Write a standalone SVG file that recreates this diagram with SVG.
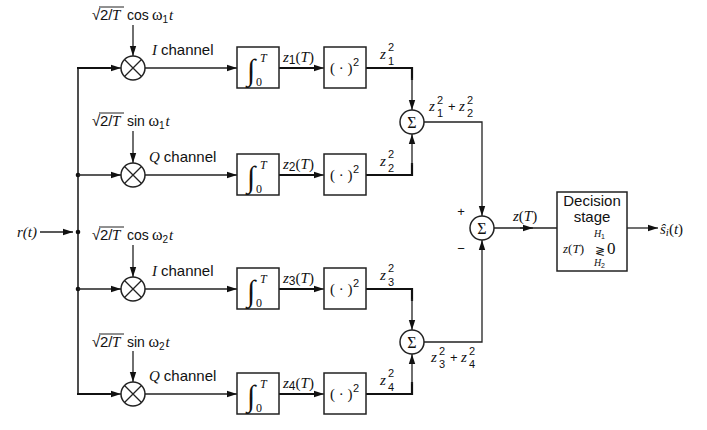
<svg xmlns="http://www.w3.org/2000/svg" width="707" height="430" viewBox="0 0 707 430">
<defs>
<marker id="ah" markerUnits="userSpaceOnUse" markerWidth="10" markerHeight="8" refX="10" refY="4" orient="auto">
<path d="M0,0.8 L10,4 L0,7.2 Z" fill="#111"/>
</marker>
</defs>
<style>
.ln{stroke:#222;stroke-width:1.3;fill:none}
.tk{stroke:#111;stroke-width:2.2;fill:none}
.box{stroke:#222;stroke-width:1.5;fill:#fff}
.sans{font-family:"Liberation Sans",Arial,sans-serif;fill:#111}
.it{font-family:"Liberation Serif","Times New Roman",serif;font-style:italic;fill:#111}
.ser{font-family:"Liberation Serif","Times New Roman",serif;fill:#111}
.dv{font-family:"DejaVu Serif",serif;fill:#111}
</style>
<rect width="707" height="430" fill="#fff"/>

<g id="connectors">
<line class="ln" x1="78" y1="67" x2="78" y2="395" style="stroke-width:1.6"/>
<line class="ln" x1="40" y1="232" x2="73" y2="232" marker-end="url(#ah)"/>
<circle cx="78" cy="232" r="2.3" fill="#111"/>
<circle cx="78" cy="175" r="2.3" fill="#111"/>
<circle cx="78" cy="289" r="2.3" fill="#111"/>
<line class="tk" x1="77" y1="68" x2="112" y2="68"/>
<line class="ln" x1="110" y1="68" x2="121" y2="68" marker-end="url(#ah)"/>
<line class="ln" x1="78" y1="175" x2="121" y2="175" marker-end="url(#ah)"/>
<line class="ln" x1="78" y1="289" x2="121" y2="289" marker-end="url(#ah)"/>
<line class="tk" x1="77" y1="394" x2="112" y2="394"/>
<line class="ln" x1="110" y1="394" x2="121" y2="394" marker-end="url(#ah)"/>
<line class="ln" x1="133" y1="25" x2="133" y2="56" marker-end="url(#ah)"/>
<line class="ln" x1="133" y1="131" x2="133" y2="163" marker-end="url(#ah)"/>
<line class="ln" x1="133" y1="245" x2="133" y2="277" marker-end="url(#ah)"/>
<line class="ln" x1="133" y1="351" x2="133" y2="382" marker-end="url(#ah)"/>
<line class="ln" x1="145" y1="68" x2="237" y2="68" marker-end="url(#ah)"/>
<line class="ln" x1="145" y1="175" x2="237" y2="175" marker-end="url(#ah)"/>
<line class="ln" x1="145" y1="289" x2="237" y2="289" marker-end="url(#ah)"/>
<line class="ln" x1="145" y1="394" x2="237" y2="394" marker-end="url(#ah)"/>
<line class="tk" x1="279" y1="68" x2="316" y2="68"/>
<line class="ln" x1="314" y1="68" x2="324" y2="68" marker-end="url(#ah)"/>
<line class="tk" x1="279" y1="175" x2="316" y2="175"/>
<line class="ln" x1="314" y1="175" x2="324" y2="175" marker-end="url(#ah)"/>
<line class="tk" x1="279" y1="289" x2="316" y2="289"/>
<line class="ln" x1="314" y1="289" x2="324" y2="289" marker-end="url(#ah)"/>
<line class="tk" x1="279" y1="394" x2="316" y2="394"/>
<line class="ln" x1="314" y1="394" x2="324" y2="394" marker-end="url(#ah)"/>
<polyline class="tk" points="366,68 412,68 412,80"/>
<line class="ln" x1="412" y1="78" x2="412" y2="110" marker-end="url(#ah)"/>
<polyline class="tk" points="366,175 412,175 412,163"/>
<line class="ln" x1="412" y1="165" x2="412" y2="134" marker-end="url(#ah)"/>
<polyline class="tk" points="366,289 412,289 412,301"/>
<line class="ln" x1="412" y1="299" x2="412" y2="330" marker-end="url(#ah)"/>
<polyline class="tk" points="366,394 412,394 412,382"/>
<line class="ln" x1="412" y1="384" x2="412" y2="354" marker-end="url(#ah)"/>
<polyline class="ln" points="424,122 482,122 482,216" marker-end="url(#ah)"/>
<polyline class="ln" points="424,342 482,342 482,240" marker-end="url(#ah)"/>
<line class="ln" x1="494" y1="228" x2="557" y2="228"/>
<line class="ln" x1="520" y1="228" x2="533" y2="228" marker-end="url(#ah)"/>
<line class="ln" x1="627" y1="228" x2="658" y2="228" marker-end="url(#ah)"/>
</g>

<g id="mult1"><circle class="box" cx="133" cy="68" r="12"/><path class="ln" d="M124.5,59.5 L141.5,76.5 M141.5,59.5 L124.5,76.5"/></g>
<g id="mult2"><circle class="box" cx="133" cy="175" r="12"/><path class="ln" d="M124.5,166.5 L141.5,183.5 M141.5,166.5 L124.5,183.5"/></g>
<g id="mult3"><circle class="box" cx="133" cy="289" r="12"/><path class="ln" d="M124.5,280.5 L141.5,297.5 M141.5,280.5 L124.5,297.5"/></g>
<g id="mult4"><circle class="box" cx="133" cy="394" r="12"/><path class="ln" d="M124.5,385.5 L141.5,402.5 M141.5,385.5 L124.5,402.5"/></g>

<g id="ref1">
<text class="sans" x="92" y="20" font-size="15">√</text>
<text class="sans" x="100" y="20" font-size="15">2/</text>
<text class="it" x="112" y="20" font-size="15">T</text>
<line class="ln" x1="99" y1="7" x2="124" y2="7" style="stroke-width:1"/>
<text class="sans" x="127" y="20" font-size="14">cos</text>
<text class="ser" x="152" y="20" font-size="16">ω</text>
<text class="sans" x="162.5" y="23" font-size="10">1</text>
<text class="it" x="169" y="20" font-size="15">t</text>
</g>
<g id="ref2">
<text class="sans" x="92" y="126" font-size="15">√</text>
<text class="sans" x="100" y="126" font-size="15">2/</text>
<text class="it" x="112" y="126" font-size="15">T</text>
<line class="ln" x1="99" y1="113" x2="124" y2="113" style="stroke-width:1"/>
<text class="sans" x="127" y="126" font-size="14">sin</text>
<text class="ser" x="148.5" y="126" font-size="16">ω</text>
<text class="sans" x="159" y="129" font-size="10">1</text>
<text class="it" x="165.5" y="126" font-size="15">t</text>
</g>
<g id="ref3">
<text class="sans" x="92" y="240" font-size="15">√</text>
<text class="sans" x="100" y="240" font-size="15">2/</text>
<text class="it" x="112" y="240" font-size="15">T</text>
<line class="ln" x1="99" y1="227" x2="124" y2="227" style="stroke-width:1"/>
<text class="sans" x="127" y="240" font-size="14">cos</text>
<text class="ser" x="152" y="240" font-size="16">ω</text>
<text class="sans" x="162.5" y="243" font-size="10">2</text>
<text class="it" x="169" y="240" font-size="15">t</text>
</g>
<g id="ref4">
<text class="sans" x="92" y="347" font-size="15">√</text>
<text class="sans" x="100" y="347" font-size="15">2/</text>
<text class="it" x="112" y="347" font-size="15">T</text>
<line class="ln" x1="99" y1="334" x2="124" y2="334" style="stroke-width:1"/>
<text class="sans" x="127" y="347" font-size="14">sin</text>
<text class="ser" x="148.5" y="347" font-size="16">ω</text>
<text class="sans" x="159" y="350" font-size="10">2</text>
<text class="it" x="165.5" y="347" font-size="15">t</text>
</g>

<g id="chlabels">
<text x="152" y="55" font-size="15"><tspan class="it">I</tspan><tspan class="sans" dx="4">channel</tspan></text>
<text x="149" y="162" font-size="15"><tspan class="it">Q</tspan><tspan class="sans" dx="4">channel</tspan></text>
<text x="152" y="276" font-size="15"><tspan class="it">I</tspan><tspan class="sans" dx="4">channel</tspan></text>
<text x="149" y="381" font-size="15"><tspan class="it">Q</tspan><tspan class="sans" dx="4">channel</tspan></text>
</g>

<g id="input"><text class="it" x="17" y="237" font-size="15">r(t)</text></g>

<g id="int1"><rect class="box" x="237" y="47" width="42" height="41"/><text class="ser" x="247" y="80" font-size="30">∫</text><text class="it" x="260" y="62" font-size="12">T</text><text class="ser" x="256" y="86" font-size="12">0</text></g>
<g id="int2"><rect class="box" x="237" y="154" width="42" height="41"/><text class="ser" x="247" y="187" font-size="30">∫</text><text class="it" x="260" y="169" font-size="12">T</text><text class="ser" x="256" y="193" font-size="12">0</text></g>
<g id="int3"><rect class="box" x="237" y="268" width="42" height="41"/><text class="ser" x="247" y="301" font-size="30">∫</text><text class="it" x="260" y="283" font-size="12">T</text><text class="ser" x="256" y="307" font-size="12">0</text></g>
<g id="int4"><rect class="box" x="237" y="373" width="42" height="41"/><text class="ser" x="247" y="406" font-size="30">∫</text><text class="it" x="260" y="388" font-size="12">T</text><text class="ser" x="256" y="412" font-size="12">0</text></g>

<g id="zlabels">
<text x="283" y="62" font-size="15"><tspan class="it">z</tspan><tspan class="sans" font-size="12" dy="2">1</tspan><tspan class="ser" dy="-2">(</tspan><tspan class="it">T</tspan><tspan class="ser">)</tspan></text>
<text x="283" y="169" font-size="15"><tspan class="it">z</tspan><tspan class="sans" font-size="12" dy="2">2</tspan><tspan class="ser" dy="-2">(</tspan><tspan class="it">T</tspan><tspan class="ser">)</tspan></text>
<text x="283" y="283" font-size="15"><tspan class="it">z</tspan><tspan class="sans" font-size="12" dy="2">3</tspan><tspan class="ser" dy="-2">(</tspan><tspan class="it">T</tspan><tspan class="ser">)</tspan></text>
<text x="283" y="388" font-size="15"><tspan class="it">z</tspan><tspan class="sans" font-size="12" dy="2">4</tspan><tspan class="ser" dy="-2">(</tspan><tspan class="it">T</tspan><tspan class="ser">)</tspan></text>
</g>

<g id="sq1"><rect class="box" x="324" y="47" width="42" height="41"/><text class="ser" x="330" y="73" font-size="15">( · )</text><text class="sans" x="353" y="66" font-size="11">2</text></g>
<g id="sq2"><rect class="box" x="324" y="154" width="42" height="41"/><text class="ser" x="330" y="180" font-size="15">( · )</text><text class="sans" x="353" y="173" font-size="11">2</text></g>
<g id="sq3"><rect class="box" x="324" y="268" width="42" height="41"/><text class="ser" x="330" y="294" font-size="15">( · )</text><text class="sans" x="353" y="287" font-size="11">2</text></g>
<g id="sq4"><rect class="box" x="324" y="373" width="42" height="41"/><text class="ser" x="330" y="399" font-size="15">( · )</text><text class="sans" x="353" y="392" font-size="11">2</text></g>

<g id="sqlabels">
<text class="it" x="380" y="59" font-size="15">z</text><text class="sans" x="388" y="51" font-size="11">2</text><text class="sans" x="388" y="65" font-size="11">1</text>
<text class="it" x="380" y="166" font-size="15">z</text><text class="sans" x="388" y="158" font-size="11">2</text><text class="sans" x="388" y="172" font-size="11">2</text>
<text class="it" x="380" y="280" font-size="15">z</text><text class="sans" x="388" y="272" font-size="11">2</text><text class="sans" x="388" y="286" font-size="11">3</text>
<text class="it" x="380" y="385" font-size="15">z</text><text class="sans" x="388" y="377" font-size="11">2</text><text class="sans" x="388" y="391" font-size="11">4</text>
</g>

<g id="sum1"><circle class="box" cx="412" cy="122" r="12"/><text class="ser" x="412" y="127.5" font-size="16" text-anchor="middle">Σ</text></g>
<g id="sum2"><circle class="box" cx="412" cy="342" r="12"/><text class="ser" x="412" y="347.5" font-size="16" text-anchor="middle">Σ</text></g>
<g id="sum3"><circle class="box" cx="482" cy="228" r="12"/><text class="ser" x="482" y="233.5" font-size="16" text-anchor="middle">Σ</text></g>

<g id="sumlabels">
<text class="it" x="429" y="111" font-size="15">z</text><text class="sans" x="437" y="104" font-size="11">2</text><text class="sans" x="437" y="117" font-size="11">1</text>
<text class="sans" x="448" y="111" font-size="13">+</text>
<text class="it" x="459" y="111" font-size="15">z</text><text class="sans" x="467" y="104" font-size="11">2</text><text class="sans" x="467" y="117" font-size="11">2</text>
<text class="it" x="431" y="362" font-size="15">z</text><text class="sans" x="439" y="355" font-size="11">2</text><text class="sans" x="439" y="368" font-size="11">3</text>
<text class="sans" x="450" y="362" font-size="13">+</text>
<text class="it" x="461" y="362" font-size="15">z</text><text class="sans" x="469" y="355" font-size="11">2</text><text class="sans" x="469" y="368" font-size="11">4</text>
<text class="sans" x="461" y="216" font-size="13" text-anchor="middle">+</text>
<text class="sans" x="461" y="253" font-size="13" text-anchor="middle">−</text>
<text x="513" y="221" font-size="15"><tspan class="it">z</tspan><tspan class="ser">(</tspan><tspan class="it">T</tspan><tspan class="ser">)</tspan></text>
</g>

<g id="decision">
<rect class="box" x="557" y="192" width="70" height="79"/>
<text class="sans" x="592" y="206" font-size="15" text-anchor="middle">Decision</text>
<text class="sans" x="592" y="222" font-size="15" text-anchor="middle">stage</text>
<text class="it" x="594" y="237" font-size="10">H</text><text class="sans" x="601" y="239" font-size="7">1</text>
<text x="563" y="253" font-size="13"><tspan class="it">z</tspan><tspan class="ser">(</tspan><tspan class="it">T</tspan><tspan class="ser">)</tspan></text>
<text class="dv" x="595" y="255" font-size="12">≷</text>
<text class="ser" x="607" y="254" font-size="17">0</text>
<text class="it" x="594" y="266" font-size="10">H</text><text class="sans" x="601" y="268" font-size="7">2</text>
</g>

<g id="output">
<text x="660" y="234" font-size="15"><tspan class="it">ŝ</tspan><tspan class="it" font-size="11" dy="2">i</tspan><tspan class="ser" dy="-2">(</tspan><tspan class="it">t</tspan><tspan class="ser">)</tspan></text>
</g>
</svg>
